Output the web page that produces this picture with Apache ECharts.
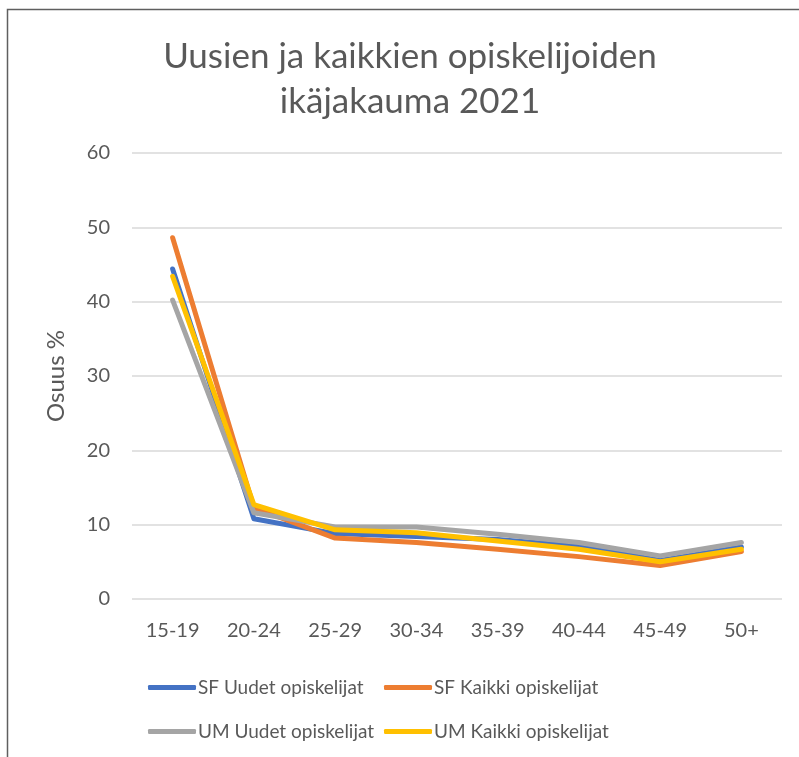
<!DOCTYPE html>
<html>
<head>
<meta charset="utf-8">
<script src="https://cdn.jsdelivr.net/npm/echarts@6/dist/echarts.min.js"></script>
<style>
  html, body { margin: 0; padding: 0; background: #fff; }
  #chart { width: 799px; height: 757px; }
</style>
</head>
<body>
<div id="chart"></div>
<script>
const categories = ['15-19', '20-24', '25-29', '30-34', '35-39', '40-44', '45-49', '50+'];
const sfUudet = [44.4, 10.8, 8.8, 8.4, 8.0, 7.1, 5.2, 7.0];
const sfKaikki = [48.6, 12.3, 8.2, 7.6, 6.7, 5.7, 4.5, 6.4];
const umUudet = [40.2, 11.6, 9.7, 9.7, 8.7, 7.6, 5.8, 7.6];
const umKaikki = [43.4, 12.7, 9.3, 8.9, 7.8, 6.7, 5.0, 6.7];
const yTicks = [0, 10, 20, 30, 40, 50, 60];

const names = ['SF Uudet opiskelijat', 'SF Kaikki opiskelijat', 'UM Uudet opiskelijat', 'UM Kaikki opiskelijat'];
const colors = ['#4472C4', '#ED7D31', '#A5A5A5', '#FFC000'];
const values = [sfUudet, sfKaikki, umUudet, umKaikki];

// Lato is close to Calibri metrics
const font = 'Lato, Open Sans, sans-serif';
const textColor = '#595959';

let myEcharts = echarts.init(document.getElementById('chart'));

// one legend per item so the 2x2 layout matches
const legendPos = [[143, 673], [379, 673], [143, 717], [379, 717]];
let legends = names.map((n, i) => ({
  data: [n],
  left: legendPos[i][0],
  top: legendPos[i][1],
  icon: 'roundRect',
  itemWidth: 48,
  itemHeight: 5,
  itemGap: 0,
  textStyle: {fontFamily: font, fontSize: 19, color: textColor, padding: [0, 0, 0, -3]}
}));

let option = {
  backgroundColor: '#fff',
  animation: false,
  title: {
    text: 'Uusien ja kaikkien opiskelijoiden\nikäjakauma 2021',
    left: 405,
    textAlign: 'center',
    top: 29,
    textStyle: {fontFamily: font, fontSize: 35, fontWeight: 'normal', color: textColor, lineHeight: 45}
  },
  graphic: [{
    type: 'rect',
    shape: {x: 7.5, y: 9.5, width: 900, height: 900},
    style: {fill: 'none', stroke: '#5f5f5f', lineWidth: 1.5},
    silent: true
  }],
  legend: legends,
  grid: {left: 132, right: 17, top: 153, bottom: 158},
  xAxis: {
    type: 'category',
    data: categories,
    axisLine: {show: false},
    axisTick: {show: false},
    axisLabel: {fontFamily: font, fontSize: 20, color: textColor, margin: 22}
  },
  yAxis: {
    type: 'value',
    min: yTicks[0],
    max: yTicks[yTicks.length - 1],
    interval: 10,
    name: 'Osuus %',
    nameLocation: 'middle',
    nameGap: 64,
    nameTextStyle: {fontFamily: font, fontSize: 24, color: textColor},
    axisLine: {show: false},
    axisTick: {show: false},
    axisLabel: {fontFamily: font, fontSize: 20, color: textColor, margin: 22},
    splitLine: {lineStyle: {color: '#d9d9d9', width: 1.5}}
  },
  series: names.map((n, i) => ({
    name: n,
    type: 'line',
    data: values[i],
    symbol: 'none',
    color: colors[i],
    lineStyle: {width: 5, color: colors[i], cap: 'round', join: 'round'},
    z: 2 + i
  }))
};
myEcharts.setOption(option);
</script>
</body>
</html>
